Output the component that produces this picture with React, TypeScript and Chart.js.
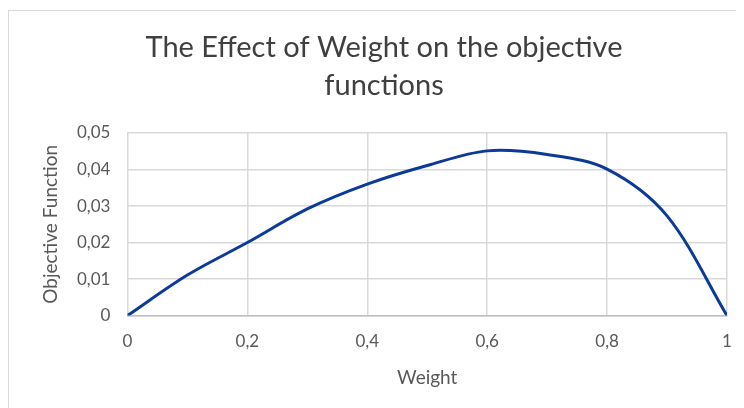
import React, { useEffect, useRef } from "react";
import { Chart, registerables } from "chart.js";

Chart.register(...registerables);

const weights = [0, 0.1, 0.2, 0.3, 0.4, 0.5, 0.6, 0.7, 0.8, 0.9, 1];
const objective = [0, 0.0111, 0.02, 0.0292, 0.036, 0.0411, 0.0451, 0.0441, 0.0401, 0.0273, 0];
const titleLines = ["The Effect of Weight on the objective", "functions"];
const xTitle = "Weight";
const yTitle = "Objective Function";

const fmt = (v: number, digits: number) => {
  const r = Math.round(v * Math.pow(10, digits)) / Math.pow(10, digits);
  return String(r).replace(".", ",");
};

export default function App() {
  const ref = useRef<HTMLCanvasElement | null>(null);
  useEffect(() => {
    if (!ref.current) return;
    const font = "Lato, 'Open Sans', sans-serif";
    const chart = new Chart(ref.current, {
      type: "line",
      data: {
        datasets: [
          {
            data: weights.map((w, i) => ({ x: w, y: objective[i] })),
            borderColor: "#0b3a98",
            borderWidth: 3,
            pointRadius: 0,
            tension: 0.33,
            fill: false,
          },
        ],
      },
      options: {
        animation: false,
        responsive: false,
        layout: { padding: { left: 32, right: 31, top: 0, bottom: 21 } },
        plugins: {
          legend: { display: false },
          tooltip: { enabled: false },
          title: {
            display: true,
            text: titleLines,
            color: "#404040",
            font: { family: font, size: 29, weight: "normal", lineHeight: 1.31 },
            padding: { top: 18, bottom: 28 },
          },
        },
        scales: {
          x: {
            type: "linear",
            min: 0,
            max: 1,
            ticks: {
              stepSize: 0.2,
              color: "#595959",
              font: { family: font, size: 17 },
              padding: 16,
              callback: (v: any) => fmt(Number(v), 1),
            },
            grid: { color: "#d9d9d9", lineWidth: 1.5, drawTicks: false },
            border: { color: "#bfbfbf", width: 1.5 },
            title: {
              display: true,
              text: xTitle,
              color: "#595959",
              font: { family: font, size: 19, lineHeight: 1 },
              padding: { top: 0, bottom: 0 },
            },
          },
          y: {
            min: 0,
            max: 0.05,
            ticks: {
              stepSize: 0.01,
              color: "#595959",
              font: { family: font, size: 17 },
              padding: 17,
              callback: (v: any) => fmt(Number(v), 2),
            },
            grid: { color: "#d9d9d9", lineWidth: 1.5, drawTicks: false },
            border: { display: false },
            title: {
              display: true,
              text: yTitle,
              color: "#595959",
              font: { family: font, size: 19, lineHeight: 1 },
              padding: { top: 0, bottom: 0 },
            },
          },
        },
      },
    } as any);
    return () => chart.destroy();
  }, []);
  return (
    <div
      style={{
        marginTop: 2,
        width: 736,
        height: 398,
        boxSizing: "border-box",
        borderTop: "1px solid #d9d9d9",
        borderLeft: "1px solid #d9d9d9",
        overflow: "hidden",
        background: "#fff",
      }}
    >
      <canvas ref={ref} width={749} height={397} style={{ display: "block" }} />
    </div>
  );
}
